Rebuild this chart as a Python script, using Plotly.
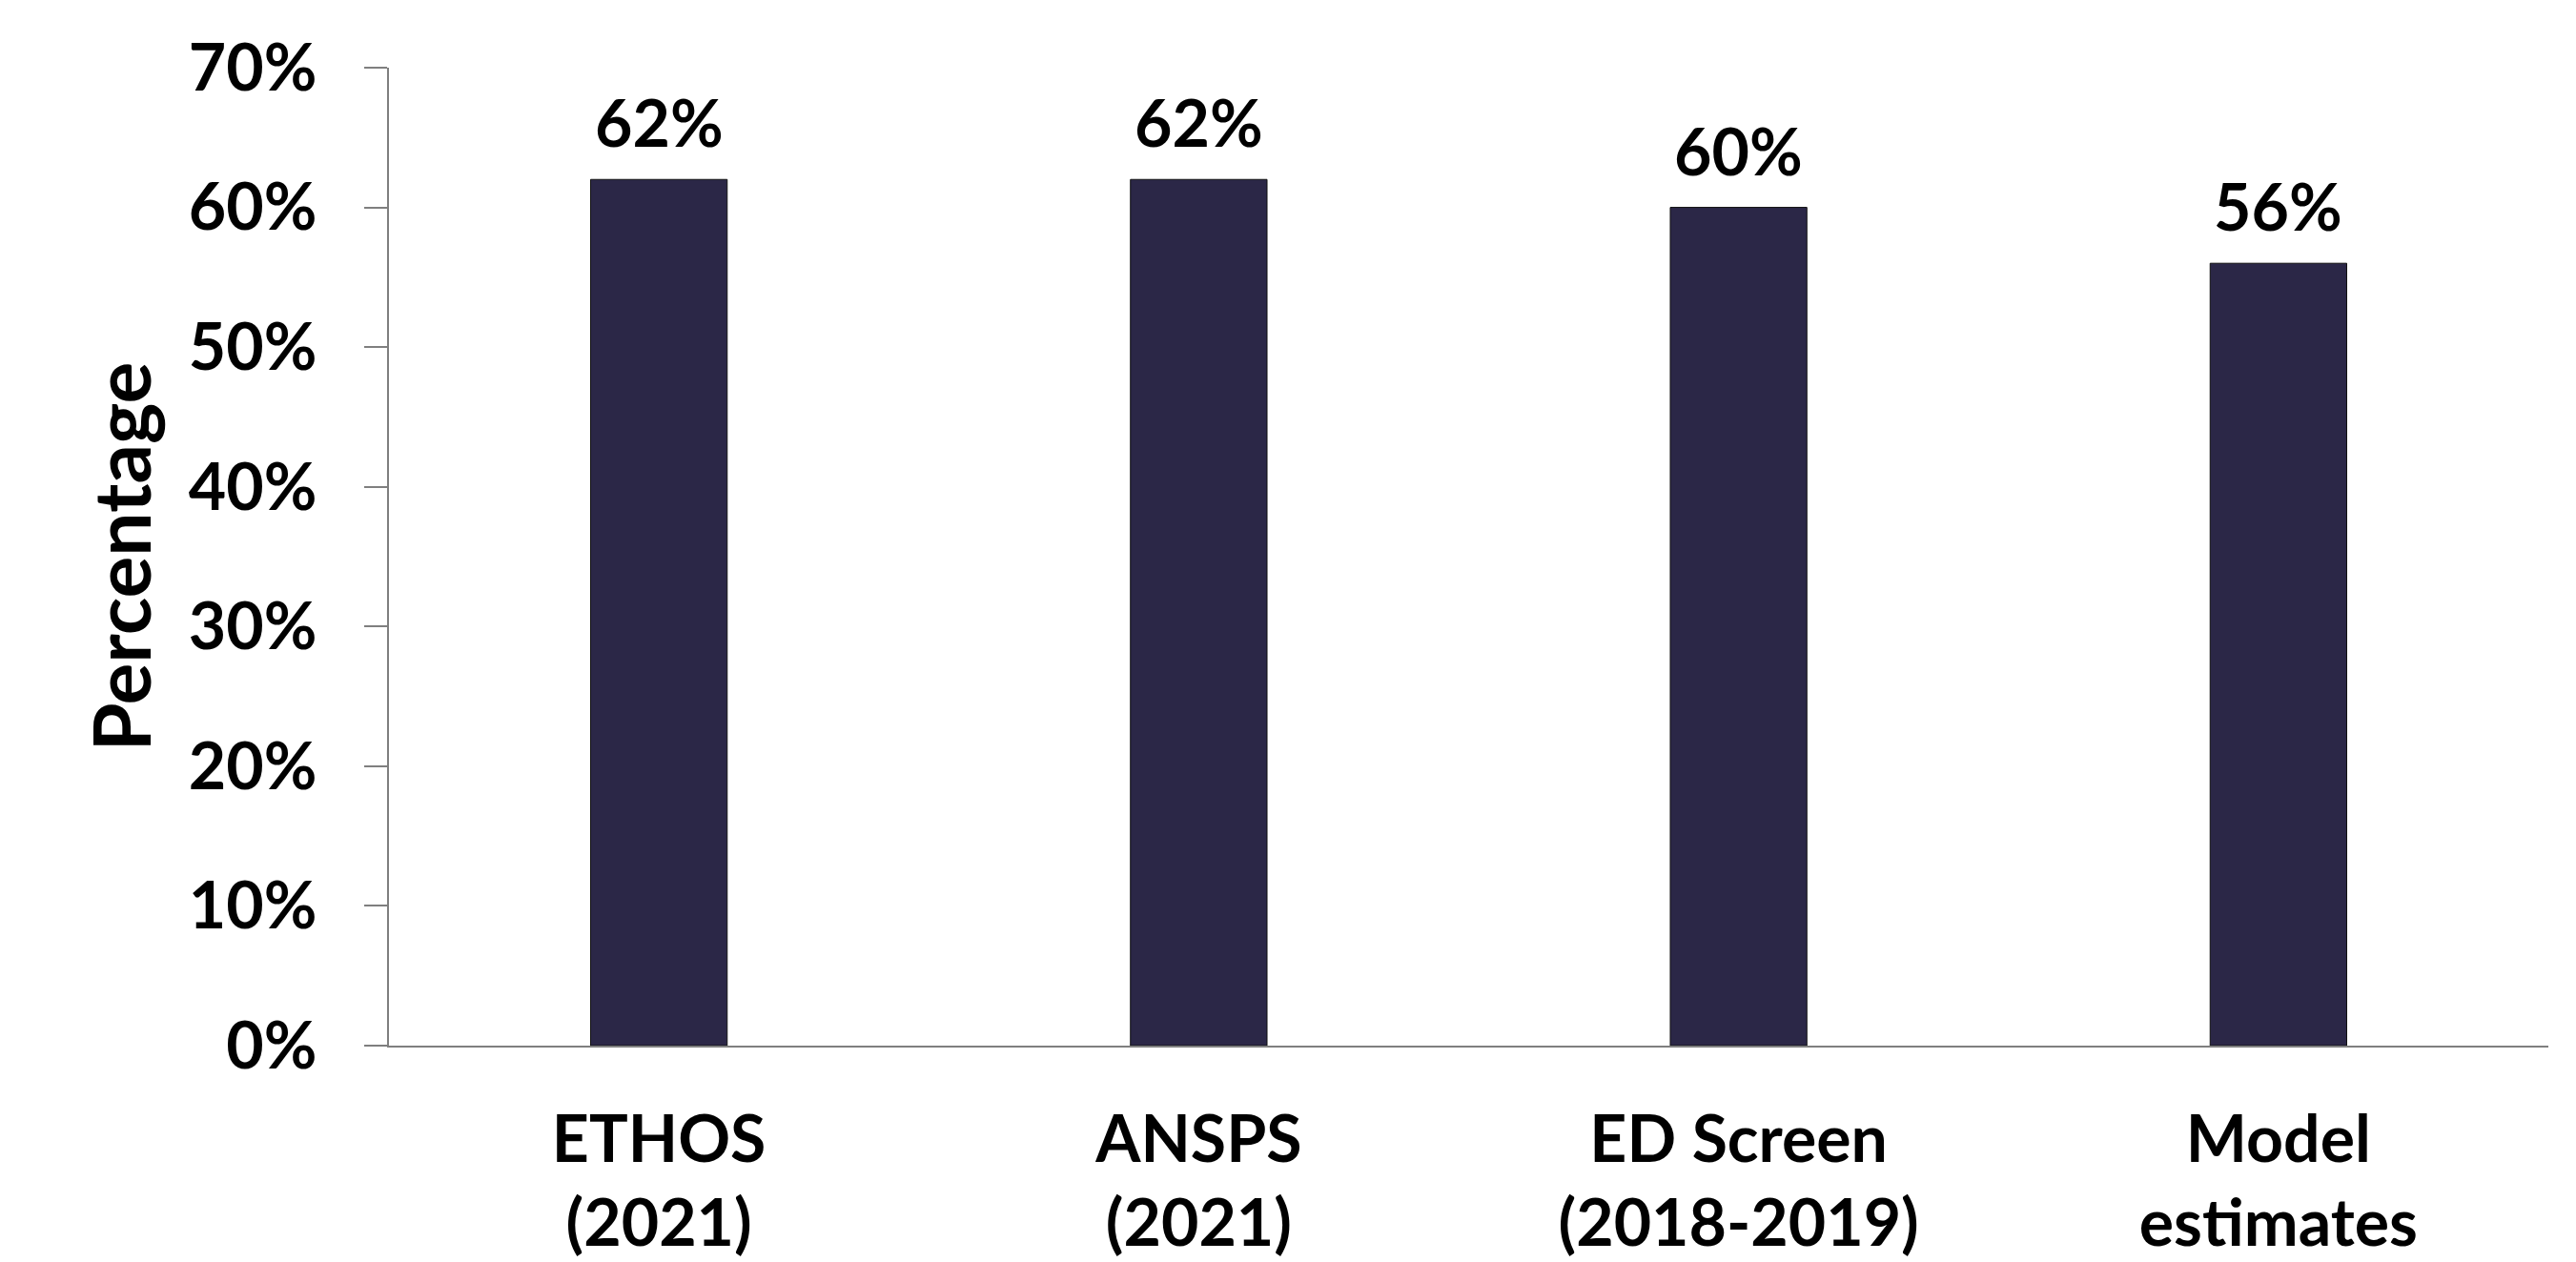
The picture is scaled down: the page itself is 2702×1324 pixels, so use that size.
import plotly.graph_objects as go

categories = ["ETHOS<br>(2021)", "ANSPS<br>(2021)", "ED Screen<br>(2018-2019)", "Model<br>estimates"]
values = [0.62, 0.62, 0.60, 0.56]
tick_vals = [0, 0.1, 0.2, 0.3, 0.4, 0.5, 0.6, 0.7]
tick_text = ["0%", "10%", "20%", "30%", "40%", "50%", "60%", "70%"]

FONT = "Lato, 'Open Sans', sans-serif"
BAR = "#2b2747"

fig = go.Figure()
fig.add_trace(go.Bar(
    x=categories, y=values,
    marker=dict(color=BAR, line=dict(color="#111111", width=1)),
    width=0.253,
    hoverinfo="skip",
))

for c, v in zip(categories, values):
    fig.add_annotation(
        x=c, y=v, text=f"<b>{round(v*100)}%</b>", showarrow=False,
        yanchor="bottom", yshift=18,
        font=dict(family=FONT, size=68, color="black"),
    )

fig.update_layout(
    width=2702, height=1324,
    margin=dict(l=408, r=29, t=71, b=227),
    paper_bgcolor="white", plot_bgcolor="white",
    showlegend=False,
    font=dict(family=FONT, size=68, color="black"),
)
fig.update_xaxes(
    showline=True, linecolor="#7f7f7f", linewidth=2,
    ticks="", showgrid=False, zeroline=False,
    tickfont=dict(family=FONT, size=68, color="black", weight="bold"),
    ticklabelstandoff=38,
    range=[-0.5, 3.5],
    automargin=False,
)
fig.update_yaxes(
    range=[0, 0.7], tickvals=tick_vals, ticktext=tick_text,
    showline=True, linecolor="#7f7f7f", linewidth=2,
    ticks="outside", ticklen=24, tickwidth=2, tickcolor="#7f7f7f",
    showgrid=False, zeroline=False,
    tickfont=dict(family=FONT, size=68, color="black", weight="bold"),
    ticklabelstandoff=36,
    automargin=False,
    title=dict(text="<b>Percentage</b>", standoff=12,
               font=dict(family=FONT, size=82, color="black")),
)

fig.write_html("out.html")
